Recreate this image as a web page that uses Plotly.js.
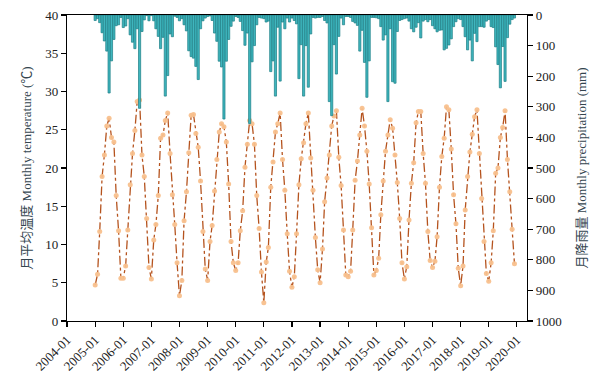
<!DOCTYPE html>
<html><head><meta charset="utf-8">
<script src="https://cdn.plot.ly/plotly-3.0.1.min.js"></script>
<style>html,body{margin:0;padding:0;background:#fff}#chart{width:607px;height:385px}</style>
</head><body><div id="chart"></div>
<script>
// Years covered by the monthly series (Jan..Dec for each)
const years = [2005,2006,2007,2008,2009,2010,2011,2012,2013,2014,2015,2016,2017,2018,2019];
// x-axis tick labels
const tickLabels = ['2004-01','2005-01','2006-01','2007-01','2008-01','2009-01','2010-01','2011-01','2012-01','2013-01','2014-01','2015-01','2016-01','2017-01','2018-01','2019-01','2020-01'];

// Monthly mean temperature (°C), Jan..Dec per year
const temperature = [
  4.7, 6.1, 11.7, 18.9, 21.7, 25.5, 26.5, 24.0, 23.4, 16.4, 11.8, 5.6,
  5.6, 7.2, 11.9, 17.8, 21.9, 24.9, 28.7, 28.9, 21.7, 18.9, 13.4, 7.0,
  5.5, 10.6, 12.6, 16.4, 23.9, 24.3, 26.2, 27.2, 21.9, 16.5, 12.6, 7.6,
  3.3, 5.3, 13.1, 16.9, 22.0, 26.9, 27.0, 24.5, 22.7, 18.3, 11.7, 6.8,
  5.3, 10.4, 12.5, 17.0, 21.1, 24.7, 25.8, 25.4, 23.4, 17.9, 10.4, 7.6,
  6.6, 7.6, 11.8, 14.4, 20.1, 23.1, 26.2, 25.8, 23.1, 16.4, 12.1, 6.4,
  2.4, 7.7, 9.6, 17.5, 20.8, 24.7, 25.8, 27.2, 21.1, 17.1, 11.4, 6.5,
  4.4, 5.8, 11.4, 17.8, 21.2, 23.3, 25.8, 27.2, 21.3, 17.1, 10.9, 6.7,
  5.0, 9.4, 15.6, 18.7, 21.7, 25.5, 26.8, 27.5, 21.4, 17.7, 11.9, 6.0,
  5.8, 6.5, 11.9, 18.4, 20.9, 24.3, 27.8, 25.5, 22.2, 17.9, 12.2, 6.0,
  6.6, 8.2, 13.9, 18.3, 22.2, 24.3, 26.3, 25.2, 21.7, 18.1, 13.4, 7.6,
  5.5, 7.1, 13.2, 18.0, 20.7, 25.9, 27.4, 27.4, 21.9, 18.0, 11.7, 7.9,
  7.0, 7.8, 11.0, 17.5, 21.5, 23.9, 28.0, 27.6, 22.5, 16.5, 12.7, 6.9,
  4.6, 7.2, 14.5, 18.9, 22.1, 24.4, 26.7, 27.6, 21.9, 16.0, 10.4, 6.2,
  5.2, 7.6, 11.8, 19.3, 20.0, 24.0, 25.3, 27.5, 21.1, 16.9, 12.0, 7.5
];

// Monthly precipitation (mm), Jan..Dec per year
const precipitation = [
  18, 12, 25, 58, 85, 118, 255, 150, 80, 35, 32, 8,
  41, 36, 12, 65, 89, 110, 45, 305, 54, 16, 2, 19,
  2, 19, 45, 70, 110, 73, 265, 198, 62, 71, 4, 8,
  19, 12, 32, 52, 117, 136, 141, 168, 211, 45, 19, 10,
  5, 3, 18, 59, 86, 151, 170, 340, 151, 80, 37, 20,
  5, 8, 21, 51, 99, 59, 355, 153, 100, 32, 8, 10,
  12, 23, 20, 185, 150, 265, 40, 216, 23, 45, 10, 23,
  10, 18, 29, 208, 97, 265, 100, 236, 62, 8, 10, 8,
  8, 5, 18, 26, 283, 329, 97, 193, 70, 10, 32, 5,
  5, 8, 21, 26, 34, 118, 50, 155, 269, 150, 8, 8,
  9, 12, 38, 82, 65, 283, 45, 218, 223, 54, 18, 15,
  12, 10, 20, 45, 55, 40, 25, 75, 20, 15, 22, 15,
  35, 45, 55, 50, 49, 114, 109, 98, 78, 38, 22, 12,
  15, 38, 71, 114, 82, 150, 60, 87, 38, 38, 40, 20,
  15, 38, 41, 104, 162, 238, 103, 217, 74, 30, 15, 10
];

const dates = [];
years.forEach(y => { for (let m = 1; m <= 12; m++) dates.push(y + '-' + String(m).padStart(2,'0') + '-01'); });
const tickVals = tickLabels.map(t => t + '-01');

const serif = 'Liberation Serif, "Times New Roman", "Noto Sans CJK SC", serif';
const titleFont = {family: serif, size: 13, color: '#34454f'};
const tickFont = {family: serif, size: 13, color: '#222'};

const traces = [
  {
    type: 'scatter', mode: 'lines+markers', x: dates, y: temperature, yaxis: 'y',
    line: {color: '#b5531e', width: 1.3, dash: 'dashdot'},
    marker: {color: '#f8c08d', size: 5, opacity: 0.95},
    hoverinfo: 'skip', showlegend: false
  },
  {
    type: 'bar', x: dates, y: precipitation, yaxis: 'y2',
    width: 28 * 86400000,
    marker: {color: '#3fb6be', line: {color: '#1b7e85', width: 0.7}},
    hoverinfo: 'skip', showlegend: false
  }
];

const layout = {
  width: 607, height: 385,
  margin: {l: 67, r: 80, t: 15, b: 64},
  paper_bgcolor: '#fff', plot_bgcolor: '#fff',
  showlegend: false,
  bargap: 0,
  xaxis: {
    type: 'date', range: ['2004-01-01', '2020-05-12'],
    tickvals: tickVals, ticktext: tickLabels, tickangle: -45,
    ticks: 'outside', ticklen: 5, tickcolor: '#000', tickwidth: 1.2,
    showline: true, linecolor: '#000', linewidth: 1.2, mirror: true,
    showgrid: false, zeroline: false, tickfont: tickFont, layer: 'below traces',
    automargin: false
  },
  yaxis: {
    range: [0, 40], dtick: 5, ticks: 'outside', ticklen: 5, tickcolor: '#000', tickwidth: 1.2,
    showline: true, linecolor: '#000', linewidth: 1.2,
    showgrid: false, zeroline: false, tickfont: tickFont,
    title: {text: '月平均温度 Monthly temperature (℃)', font: titleFont, standoff: 10},
    automargin: false
  },
  yaxis2: {
    overlaying: 'y', side: 'right', range: [1000, 0], dtick: 100,
    ticks: 'outside', ticklen: 5, tickcolor: '#000', tickwidth: 1.2,
    showline: true, linecolor: '#000', linewidth: 1.2,
    showgrid: false, zeroline: false, tickfont: tickFont,
    title: {text: '月降雨量 Monthly precipitation (mm)', font: titleFont, standoff: 16},
    automargin: false
  }
};

Plotly.newPlot('chart', traces, layout, {displayModeBar: false, staticPlot: true});
</script>
</body></html>
